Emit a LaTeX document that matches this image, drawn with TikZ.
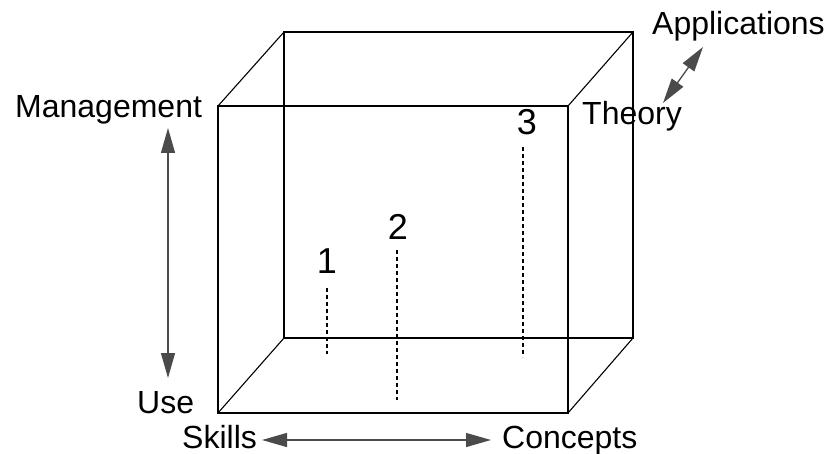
\documentclass[tikz,border=0pt]{standalone}
\usepackage{fontspec}
\setmainfont{Liberation Sans}
\usetikzlibrary{arrows.meta}
\begin{document}
\begin{tikzpicture}[x=1pt,y=-1pt,
  edge/.style={line width=1.4pt,black},
  diag/.style={line width=1.1pt,black},
  guide/.style={line width=1.3pt,black,dash pattern=on 4pt off 3pt},
  arr/.style={line width=1.3pt,color={rgb,255:red,75;green,75;blue,75},
    {Triangle[length=25pt,width=14pt]}-{Triangle[length=25pt,width=14pt]}},
  lbl/.style={inner sep=0pt,anchor=base west,font=\fontsize{32}{36}\selectfont},
  num/.style={inner sep=0pt,anchor=base,font=\fontsize{36}{40}\selectfont}]
\useasboundingbox (0,0) rectangle (837,454);
% cube corners
\coordinate (F1) at (218,106);
\coordinate (F2) at (568,106);
\coordinate (F3) at (568,413);
\coordinate (F4) at (218,413);
\coordinate (B1) at (284,32);
\coordinate (B2) at (633,32);
\coordinate (B3) at (633,338);
\coordinate (B4) at (284,338);
\draw[edge] (F1) -- (F2) -- (F3) -- (F4) -- cycle;
\draw[edge] (B1) -- (B2) -- (B3) -- (B4) -- cycle;
\draw[diag] (F1) -- (B1);
\draw[diag] (F2) -- (B2);
\draw[diag] (F3) -- (B3);
\draw[diag] (F4) -- (B4);
% labels
\node[lbl] (mgmt) at (15,118) {Management};
\node[lbl] (use) at (137,413) {Use};
\node[lbl] (skills) at (182,448) {Skills};
\node[lbl] (concepts) at (502,448) {Concepts};
\node[lbl] (theory) at (582,125) {Theory};
\node[lbl] (apps) at (652,35) {Applications};
% axis arrows
\coordinate (vtop) at (168,128);
\coordinate (vbot) at (168,378);
\draw[arr] (vtop) -- (vbot);
\coordinate (hl) at (262,440);
\coordinate (hr) at (491,440);
\draw[arr] (hl) -- (hr);
\coordinate (dl) at (663,103);
\coordinate (dr) at (703,47);
\draw[arr] (dl) -- (dr);
% points
\node[num] (n1) at (327,273) {1};
\node[num] (n2) at (398,240) {2};
\node[num] (n3) at (527,135) {3};
\coordinate (g1t) at (327,288);
\coordinate (g1b) at (327,354);
\coordinate (g2t) at (397,250);
\coordinate (g2b) at (397,400);
\coordinate (g3t) at (523,147);
\coordinate (g3b) at (523,357);
\draw[guide] (g1t) -- (g1b);
\draw[guide] (g2t) -- (g2b);
\draw[guide] (g3t) -- (g3b);
\end{tikzpicture}
\end{document}
